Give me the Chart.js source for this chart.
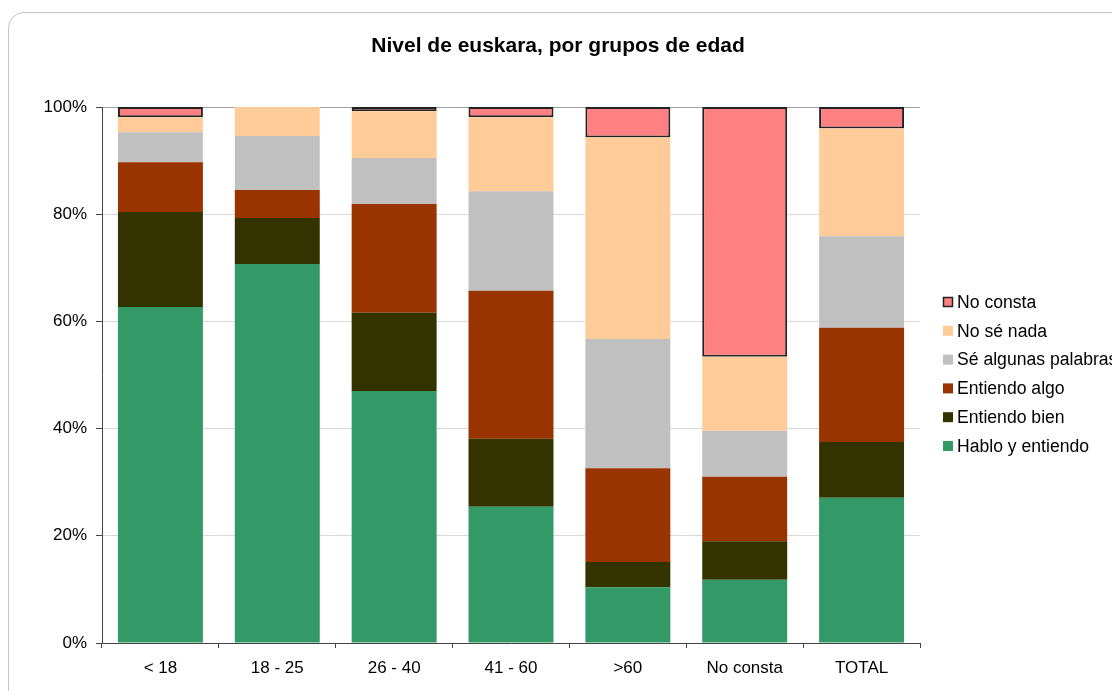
<!DOCTYPE html>
<html>
<head>
<meta charset="utf-8">
<script src="https://cdn.jsdelivr.net/npm/chart.js@4"></script>
<style>
  html, body { margin: 0; padding: 0; background: #fff; overflow: hidden; }
  #wrap { position: relative; width: 1112px; height: 691px; }
  #frame { position: absolute; left: 8px; top: 12px; width: 1200px; height: 700px;
           border: 1px solid #c4c4c4; border-radius: 16px; }
  canvas { position: absolute; left: 0; top: 0; }
</style>
</head>
<body>
<div id="wrap">
  <div id="frame"></div>
  <canvas id="chart" width="1112" height="691"></canvas>
</div>
<script>
// age groups
var categories = ['< 18', '18 - 25', '26 - 40', '41 - 60', '>60', 'No consta', 'TOTAL'];

// percentages per level
var hablo    = [62.7, 70.7, 47.0, 25.4, 10.4, 11.8, 27.1];
var bien     = [17.7,  8.6, 14.6, 12.7,  4.7,  7.2, 10.4];
var algo     = [ 9.3,  5.2, 20.3, 27.6, 17.5, 12.0, 21.3];
var palabras = [ 5.6, 10.1,  8.6, 18.6, 24.1,  8.6, 17.1];
var nada     = [ 2.8,  5.4,  8.7, 13.8, 37.6, 13.8, 20.1];
var noConsta = [ 1.9,  0.0,  0.8,  1.9,  5.7, 46.6,  4.0];

var yTicks = [0, 20, 40, 60, 80, 100];

var titleText = 'Nivel de euskara, por grupos de edad';
var fontName = '"Liberation Sans", Arial, sans-serif';

// title + legend drawn by hand so they sit where the original ones do
var sideLegend = {
    id: 'sideLegend',
    afterDraw: function (chart) {
        var ctx = chart.ctx;
        ctx.save();
        ctx.fillStyle = '#000';
        ctx.font = 'bold 21px ' + fontName;
        ctx.textAlign = 'center';
        ctx.textBaseline = 'middle';
        ctx.fillText(titleText, 558, 46);

        var sets = chart.data.datasets.slice().reverse();
        ctx.font = '17.6px ' + fontName;
        ctx.textAlign = 'left';
        for (var i = 0; i < sets.length; i++) {
            var y = 302 + i * 28.8;
            ctx.fillStyle = sets[i].backgroundColor;
            ctx.fillRect(943, y - 5, 10, 10);
            if (sets[i].borderWidth) {
                ctx.strokeStyle = '#222';
                ctx.lineWidth = 1.5;
                ctx.strokeRect(943.5, y - 4.5, 9, 9);
            }
            ctx.fillStyle = '#000';
            ctx.fillText(sets[i].label, 957, y + 1);
        }
        ctx.restore();
    }
};

var ctx = document.getElementById('chart').getContext('2d');
var myChart = new Chart(ctx, {
    type: 'bar',
    data: {
        labels: categories,
        datasets: [
            { label: 'Hablo y entiendo', data: hablo, backgroundColor: '#339966' },
            { label: 'Entiendo bien', data: bien, backgroundColor: '#333300' },
            { label: 'Entiendo algo', data: algo, backgroundColor: '#993300' },
            { label: 'Sé algunas palabras', data: palabras, backgroundColor: '#C0C0C0' },
            { label: 'No sé nada', data: nada, backgroundColor: '#FFCC99' },
            { label: 'No consta', data: noConsta, backgroundColor: '#FF8080', borderColor: '#222', borderWidth: 2, borderSkipped: false }
        ]
    },
    options: {
        responsive: false,
        animation: false,
        datasets: { bar: { barPercentage: 0.727, categoryPercentage: 1 } },
        layout: { padding: { left: 0, right: 192, top: 107, bottom: 0 } },
        plugins: {
            legend: { display: false },
            tooltip: { enabled: false },
            title: { display: false }
        },
        scales: {
            x: {
                stacked: true,
                afterFit: function (s) { s.height = 48; },
                grid: {
                    offset: true,
                    drawOnChartArea: true,
                    color: function (c) { return c.index === categories.length ? '#a0a0a0' : 'rgba(0,0,0,0)'; },
                    tickColor: '#444',
                    tickLength: 5
                },
                border: { color: '#444', width: 1 },
                ticks: { color: '#000', font: { family: fontName, size: 17 }, padding: 10 }
            },
            y: {
                stacked: true,
                min: 0,
                max: 100,
                afterFit: function (s) { s.width = 102; },
                afterBuildTicks: function (s) {
                    s.ticks = yTicks.map(function (v) { return { value: v }; });
                },
                grid: {
                    color: function (c) { return c.tick && c.tick.value === 100 ? '#a0a0a0' : '#d9d9d9'; },
                    tickColor: '#444',
                    tickLength: 6
                },
                border: { color: '#444', width: 1 },
                ticks: {
                    color: '#000',
                    font: { family: fontName, size: 17 },
                    padding: 9,
                    callback: function (v) { return v + '%'; }
                }
            }
        }
    },
    plugins: [sideLegend]
});
</script>
</body>
</html>
